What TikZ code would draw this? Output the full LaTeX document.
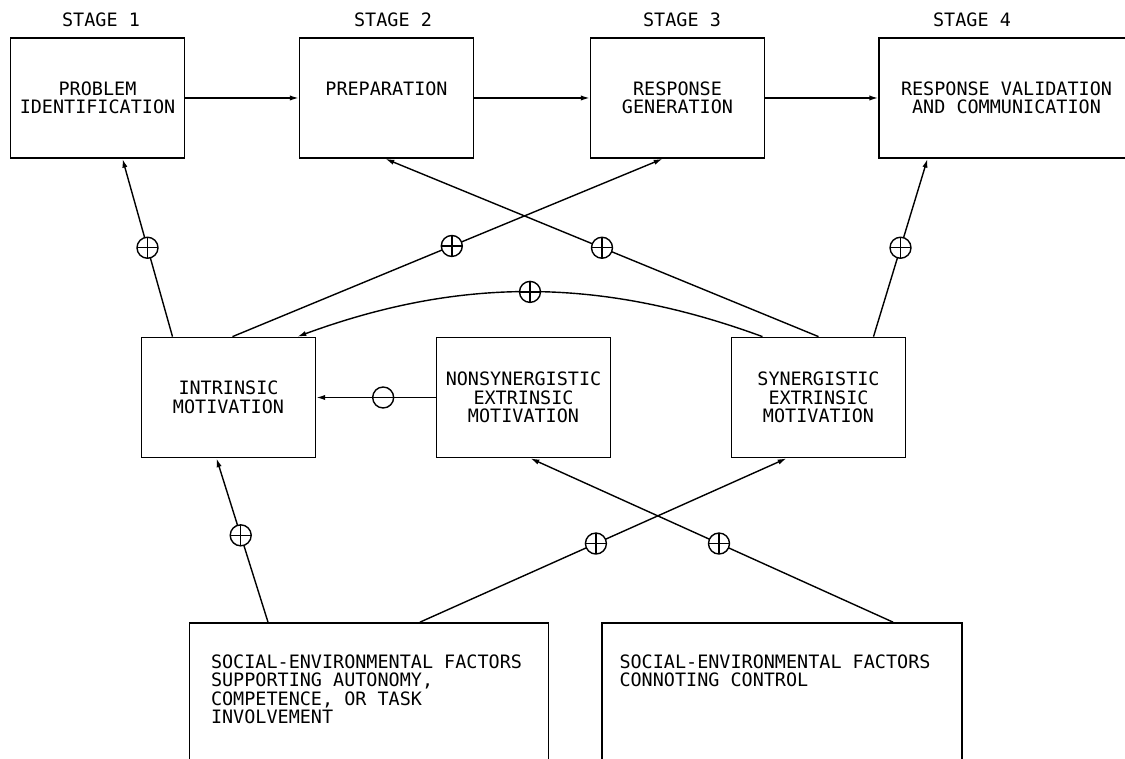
\documentclass[tikz,border=0pt]{standalone}
\usepackage{fontspec}
\newfontfamily\cadfont{DejaVu Sans Mono}
\usetikzlibrary{arrows.meta,calc}

\begin{document}
\begin{tikzpicture}[x=0.02cm,y=-0.02cm,
    every node/.style={font=\cadfont\fontsize{10.5}{10.5}\selectfont},
    box/.style={draw,line width=1pt,minimum width=3.48cm,minimum height=2.4cm,align=center,inner sep=0pt},
    factorbox/.style={draw,line width=1pt,minimum width=7.18cm,minimum height=3.4cm,inner sep=0pt},
    link/.style={line width=0.8pt,-{Latex[length=5pt,width=3pt]}},
    possign/.style={circle,draw,fill=white,line width=0.8pt,minimum size=0.42cm,inner sep=0pt,
        path picture={\draw[-,line width=0.8pt] (path picture bounding box.north)--(path picture bounding box.south)
            (path picture bounding box.west)--(path picture bounding box.east);}},
    negsign/.style={circle,draw,fill=white,line width=0.8pt,minimum size=0.42cm,inner sep=0pt,
        path picture={\draw[-,line width=0.8pt] (path picture bounding box.west)--(path picture bounding box.east);}}
]
\useasboundingbox (0,0) rectangle (1125,759);
\clip (0,0) rectangle (1125,759);
\fill[white] (0,0) rectangle (1125,759);

\node (t1) at (101,20) {STAGE 1};
\node (t2) at (393,20) {STAGE 2};
\node (t3) at (682,20) {STAGE 3};
\node (t4) at (972,20) {STAGE 4};

\node[box] (s1) at (97.5,98) {PROBLEM\\IDENTIFICATION};
\node[box] (s2) at (386.5,98) {PREPARATION\\~};
\node[box] (s3) at (677.5,98) {RESPONSE\\GENERATION};
\node[box,minimum width=5.1cm] (s4) at (1006.5,98) {RESPONSE VALIDATION\\AND COMMUNICATION};

\node[box] (i1) at (228.5,397.5) {INTRINSIC\\MOTIVATION};
\node[box] (n1) at (523.5,397.5) {NONSYNERGISTIC\\EXTRINSIC\\MOTIVATION};
\node[box] (e1) at (818.5,397.5) {SYNERGISTIC\\EXTRINSIC\\MOTIVATION};

\node[factorbox] (f1) at (369,708) {};
\node[factorbox,minimum width=7.2cm] (f2) at (782,708) {};
\node[anchor=north west,align=left,inner sep=0pt] (f1text) at ($(f1.north west)+(22,32)$)
    {SOCIAL-ENVIRONMENTAL FACTORS\\SUPPORTING AUTONOMY,\\COMPETENCE, OR TASK\\INVOLVEMENT};
\node[anchor=north west,align=left,inner sep=0pt] (f2text) at ($(f2.north west)+(18,32)$)
    {SOCIAL-ENVIRONMENTAL FACTORS\\CONNOTING CONTROL};

\draw[link] (s1.east) -- (s2.west);
\draw[link] (s2.east) -- (s3.west);
\draw[link] (s3.east) -- (s4.west);

\draw[link] ($(i1.north)+(-56,0)$) -- node[possign,pos=0.5] (p1) {} ($(s1.south)+(25,0)$);
\draw[link] ($(i1.north)+(4,0)$) -- node[possign,pos=0.51] (p2) {} ($(s3.south)+(-15,0)$);
\draw[link] (e1.north) -- node[possign,pos=0.5] (p3) {} ($(s2.south)+(-1,0)$);
\draw[link] ($(e1.north)+(55,0)$) -- node[possign,pos=0.5] (p4) {} ($(s4.south)+(-79,0)$);
\draw[link] ($(e1.north)+(-56,0)$) .. controls (600,277) and (460,277) .. node[possign,pos=0.5] (p5) {} ($(i1.north)+(69,0)$);
\draw[link] (n1.west) -- node[negsign,pos=0.44] (m1) {} (i1.east);

\draw[link] ($(f1.north)+(-101,0)$) -- node[possign,pos=0.53] (p6) {} ($(i1.south)+(-12,0)$);
\draw[link] ($(f1.north)+(51,0)$) -- node[possign,pos=0.48] (p7) {} ($(e1.south)+(-32,0)$);
\draw[link] ($(f2.north)+(111,0)$) -- node[possign,pos=0.48] (p8) {} ($(n1.south)+(7,0)$);
\end{tikzpicture}
\end{document}
